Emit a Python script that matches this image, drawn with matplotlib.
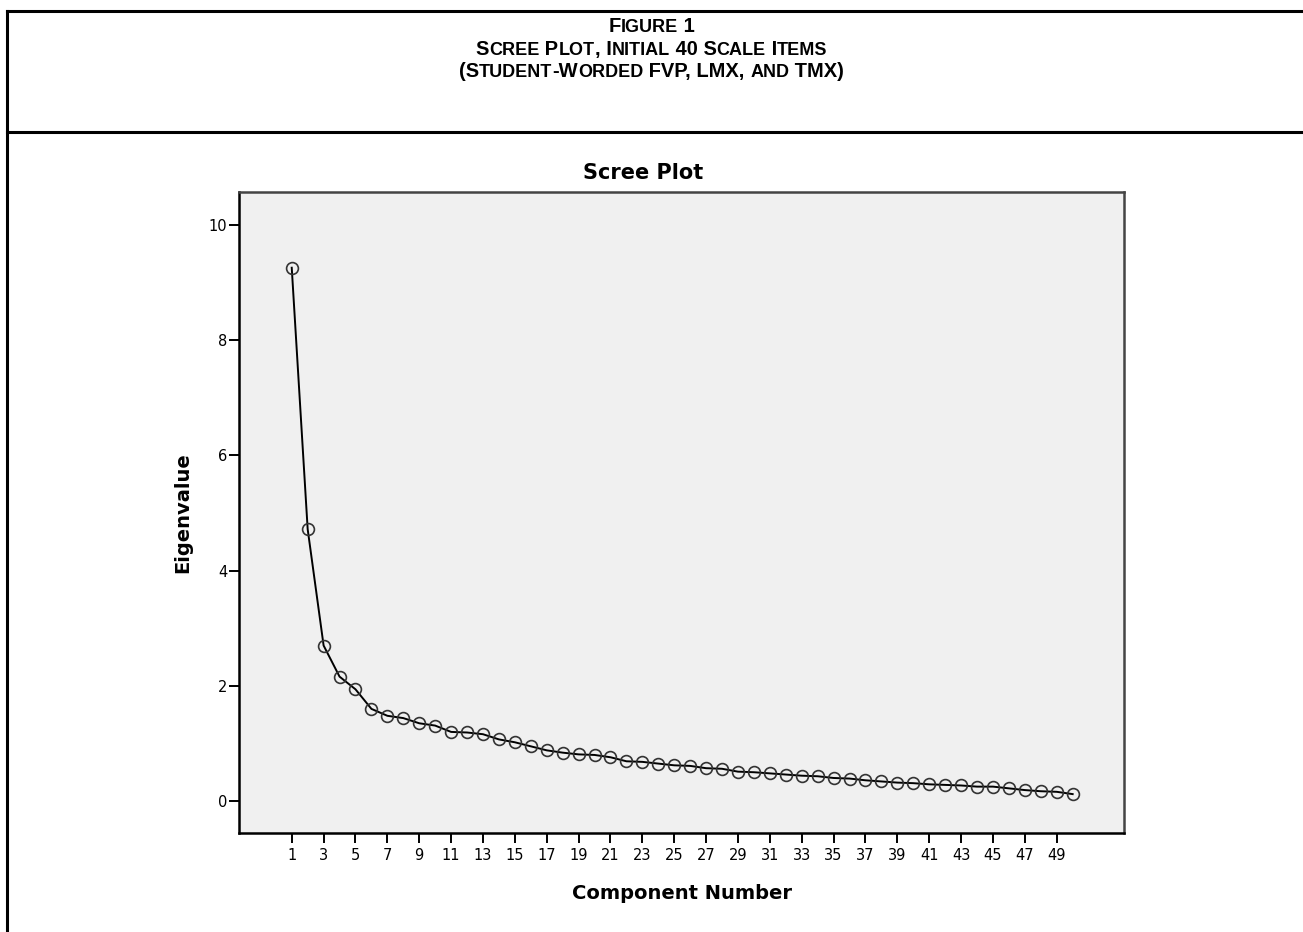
import numpy as np
import matplotlib
matplotlib.use("Agg")
import matplotlib.pyplot as plt
from matplotlib.lines import Line2D

# header lines (drawn in small caps)
header_lines = ["Figure 1",
                "Scree Plot, Initial 40 Scale Items",
                "(Student-Worded FVP, LMX, and TMX)"]

chart_title = "Scree Plot"
x_label = "Component Number"
y_label = "Eigenvalue"

components = np.arange(1, 51)
eigenvalues = [9.26, 4.72, 2.70, 2.16, 1.94, 1.60, 1.48, 1.44, 1.35, 1.31,
               1.20, 1.19, 1.16, 1.07, 1.02, 0.95, 0.88, 0.84, 0.81, 0.80,
               0.76, 0.69, 0.68, 0.65, 0.62, 0.61, 0.57, 0.56, 0.51, 0.50,
               0.48, 0.46, 0.44, 0.43, 0.40, 0.39, 0.36, 0.34, 0.32, 0.31,
               0.29, 0.28, 0.27, 0.25, 0.25, 0.22, 0.19, 0.17, 0.16, 0.12]
x_ticks = list(range(1, 50, 2))
y_ticks = [0, 2, 4, 6, 8, 10]

W, H = 1303, 932
fig = plt.figure(figsize=(W / 100, H / 100), dpi=100)
fig.patch.set_facecolor("white")

# frame lines of the page
def px_line(x0, y0, x1, y1, lw=2.2):
    fig.add_artist(Line2D([x0 / W, x1 / W], [1 - y0 / H, 1 - y1 / H],
                          color="black", lw=lw, transform=fig.transFigure))

px_line(7, 11, W, 11)
px_line(7, 11, 7, H)
px_line(7, 132, W, 132)

# small caps header
renderer = fig.canvas.get_renderer()
big_fs, small_fs = 14.5, 13
head_font = "Liberation Sans"

def run_width(s, fs):
    t = fig.text(0, 0, "|" + s + "|", fontsize=fs, weight="bold", family=head_font)
    w = t.get_window_extent(renderer).width
    t.remove()
    t = fig.text(0, 0, "||", fontsize=fs, weight="bold", family=head_font)
    w -= t.get_window_extent(renderer).width
    t.remove()
    return w

def small_caps(line, y_px):
    runs = []
    for ch in line:
        small = ch.islower()
        if runs and runs[-1][1] == small:
            runs[-1][0] += ch
        else:
            runs.append([ch, small])
    widths = [run_width(r[0].upper(), small_fs if r[1] else big_fs) for r in runs]
    x = W / 2 - sum(widths) / 2
    for (txt, small), w in zip(runs, widths):
        fig.text(x / W, 1 - y_px / H, txt.upper(),
                 fontsize=small_fs if small else big_fs, weight="bold",
                 family=head_font, ha="left", va="baseline")
        x += w

for line, y in zip(header_lines, [32, 55, 77]):
    small_caps(line, y)

# plot area
ax = fig.add_axes([239.3 / W, 1 - 832.7 / H, (1124.3 - 239.3) / W, (832.7 - 191.7) / H])
ax.set_facecolor("#f0f0f0")
ax.plot(components, eigenvalues, color="black", lw=1.4,
        marker="o", markersize=8.5, markerfacecolor="none",
        markeredgecolor="#333333", markeredgewidth=1.2)

ax.set_xlim(-2.29, 53.24)
ax.set_ylim(-0.55, 10.58)
ax.set_xticks(x_ticks)
ax.set_yticks(y_ticks)
ax.tick_params(direction="out", length=7, width=1.4, labelsize=10.5,
               colors="black")
ax.tick_params(axis="x", pad=4)
ax.tick_params(axis="y", pad=1.5)
for side in ["left", "bottom"]:
    ax.spines[side].set_linewidth(1.8)
    ax.spines[side].set_color("black")
for side in ["top", "right"]:
    ax.spines[side].set_linewidth(1.8)
    ax.spines[side].set_color("#444444")

ax.set_title(chart_title, fontsize=15, weight="bold", pad=9, x=(643 - 239.3) / 885)
ax.set_xlabel(x_label, fontsize=14, weight="bold", labelpad=15)
ax.set_ylabel(y_label, fontsize=14, weight="bold", labelpad=12)

plt.savefig("out.png", dpi=100)
